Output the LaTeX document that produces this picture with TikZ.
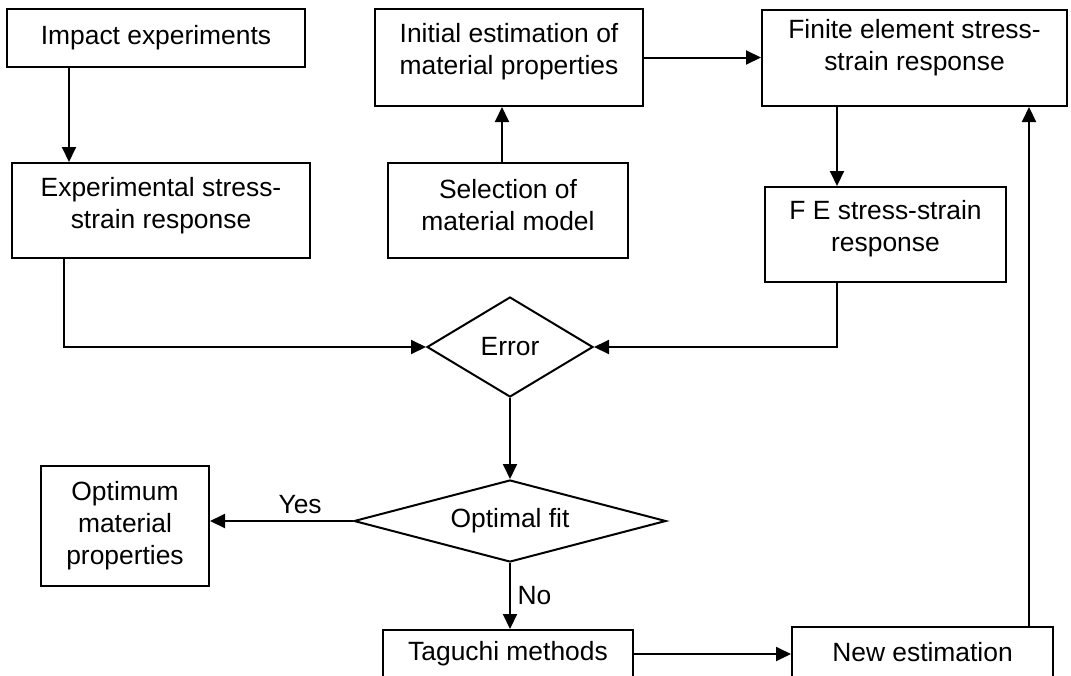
\documentclass[tikz,border=0pt]{standalone}
\usepackage{fontspec}
\setmainfont{Liberation Sans}
\usetikzlibrary{arrows.meta,shapes.geometric,positioning,calc}
% invisible depth below the last line, lifts the text a little
\newcommand{\padbelow}[1]{\rule[-#1]{0pt}{0pt}}

\begin{document}
\begin{tikzpicture}[x=0.5pt,y=-0.5pt,
	font=\fontsize{13.2}{16}\selectfont,
	box/.style={draw, line width=1pt, rectangle, align=center, inner sep=2pt},
	decision/.style={draw, line width=1pt, diamond, inner sep=0pt, align=center},
	arr/.style={line width=1pt, -{Triangle[length=7.5pt,width=7pt]}}]
		\useasboundingbox (0,0) rectangle (1071,675);
		\clip (0,0) rectangle (1071,675);

		% left column
		\node[box, minimum width=149pt, minimum height=29pt] (imp) at (156,38) {Impact experiments};
		\node[box, minimum width=149pt, minimum height=47.5pt] (exp) at (161,210.5) {Experimental stress-\\strain response\padbelow{7.3pt}};

		% middle column
		\node[box, minimum width=134pt, minimum height=48.5pt] (init) at (509,57.5) {Initial estimation of\\material properties\padbelow{8.3pt}};
		\node[box, minimum width=120pt, minimum height=47.5pt] (sel) at (508,210.5) {Selection of\\material model\padbelow{5.8pt}};

		% right column
		\node[box, minimum width=152.5pt, minimum height=48pt] (fin) at (914.5,58) {Finite element stress-\\strain response\padbelow{12.8pt}};
		\node[box, minimum width=120.5pt, minimum height=47.5pt] (fe) at (885.5,234.5) {F E stress-strain\\response\padbelow{8.3pt}};

		% decisions
		\node[decision, shape aspect=1.66, minimum width=83pt, minimum height=50pt] (err) at (510,347) {Error};
		\node[decision, shape aspect=3.8, minimum width=156pt, minimum height=41pt] (opt) at (510,521) {Optimal fit};

		\node[box, minimum width=84pt, minimum height=60pt] (optm) at (125,526) {Optimum\\material\\properties};
		\node[box, minimum width=125pt, minimum height=24pt] (tag) at (508,654) {Taguchi methods};
		\node[box, minimum width=130.5pt, minimum height=25pt] (new) at (922.5,652) {New estimation};

		% bend points of the connectors
		\coordinate (ximp) at (69,0);
		\coordinate (xexp) at (64,0);
		\coordinate (xsel) at (502,0);
		\coordinate (xfin) at (837,0);
		\coordinate (xnew) at (1029,0);

		\draw[arr] (imp.south -| ximp) -- (exp.north -| ximp);
		\draw[arr] (exp.south -| xexp) |- (err.west);
		\draw[arr] (sel.north -| xsel) -- (init.south -| xsel);
		\draw[arr] (init.east) -- (init.east -| fin.west);
		\draw[arr] (fin.south -| xfin) -- (fe.north -| xfin);
		\draw[arr] (fe.south -| xfin) |- (err.east);
		\draw[arr] (err.south) -- (opt.north);
		\draw[arr] (opt.west) -- node[above, pos=0.37] {Yes} (opt.west -| optm.east);
		\draw[arr] (opt.south) -- node[right, pos=0.5] {No} (opt.south |- tag.north);
		\draw[arr] (tag.east) -- (tag.east -| new.west);
		\draw[arr] (new.north -| xnew) -- (fin.south -| xnew);
	\end{tikzpicture}
\end{document}
